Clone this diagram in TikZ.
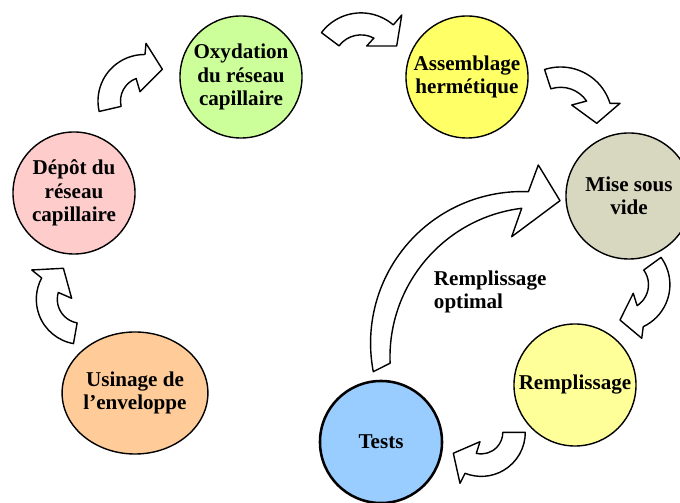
\documentclass[tikz,border=0pt]{standalone}
\usepackage{fontspec}
\setmainfont{Liberation Serif}
\usetikzlibrary{shapes.geometric}
\definecolor{peach}{RGB}{255,204,153}
\definecolor{rose}{RGB}{255,204,204}
\definecolor{lime}{RGB}{204,255,153}
\definecolor{lemon}{RGB}{255,255,102}
\definecolor{sand}{RGB}{216,215,192}
\definecolor{cream}{RGB}{255,255,153}
\definecolor{sky}{RGB}{153,204,255}
% bent block arrow: centre, inner r, outer r, tail angle, outer/inner shaft end, head corner, tip, head corner
\newcommand{\bentarrow}[9]{%
  \draw[bent,shift={#1}] (#4:#3) arc[start angle=#4,end angle=#5,radius=#3]
    -- (#7) -- (#8) -- (#9) -- (#6:#2) arc[start angle=#6,end angle=#4,radius=#2] -- cycle;}

\begin{document}
\begin{tikzpicture}[x=0.025cm,y=0.025cm,font=\bfseries\fontsize{15}{16.7}\selectfont,
  stage/.style={draw,line width=1pt,circle,minimum size=3.05cm,inner sep=0pt,align=center},
  bent/.style={draw,line width=1pt,fill=white,line join=round}]
  \useasboundingbox (0,0) rectangle (680,-503);
  \node[stage,ellipse,fill=peach,minimum width=3.275cm,minimum height=3.05cm] (usin) at (135,-393) {Usinage de\\l'enveloppe};
  \node[stage,fill=rose] (depot) at (74,-193) {Dépôt du\\réseau\\capillaire};
  \node[stage,fill=lime] (oxy) at (241,-77) {Oxydation\\du réseau\\capillaire};
  \node[stage,fill=lemon] (assem) at (467,-77) {Assemblage\\hermétique};
  \node[stage,fill=sand,minimum size=3.15cm] (vide) at (629,-196) {Mise sous\\vide};
  \node[stage,fill=cream] (remp) at (575,-385) {Remplissage};
  \node[stage,fill=sky,line width=1.8pt] (tests) at (381,-442) {Tests};
  % small bent arrows round the cycle
  \bentarrow{(81.3,-299.3)}{24}{45}{260}{151.7}{163.5}{149.4:57.6}{120:35.8}{174:9.7}
  \bentarrow{(144.5,-101)}{24}{46.5}{193}{89.4}{110.4}{88.5:57.7}{60.7:36.4}{115.8:10.3}
  \bentarrow{(361,-62.4)}{27.5}{49.5}{143}{49.2}{62}{49.3:62.5}{24.7:39.3}{70.8:17.4}
  \bentarrow{(560.6,-118.8)}{31.5}{51.8}{108}{17.4}{34.3}{14.6:61.4}{-7.1:36.4}{51.2:17.7}
  \bentarrow{(623.5,-284.7)}{25}{46.4}{36}{-64.8}{-57}{-71.2:56.6}{-95.7:35.5}{-41.3:13}
  \bentarrow{(481.3,-432.4)}{21.5}{44}{0}{-111.7}{-103.4}{-112.7:55.2}{-143.3:34.9}{-98:9.4}
  % the loop back from the tests
  \draw[bent] (373.3,-371.7) arc[start angle=190.9,end angle=87.6,radius=151.5]
    -- (538.3,-165) -- (560,-200.7) -- (511.7,-236.7)
    -- (521.7,-208.3) arc[start angle=97,end angle=182.3,radius=150] -- cycle;
  \node[anchor=west,align=left] (optim) at (429,-292) {Remplissage\\optimal};
\end{tikzpicture}
\end{document}
